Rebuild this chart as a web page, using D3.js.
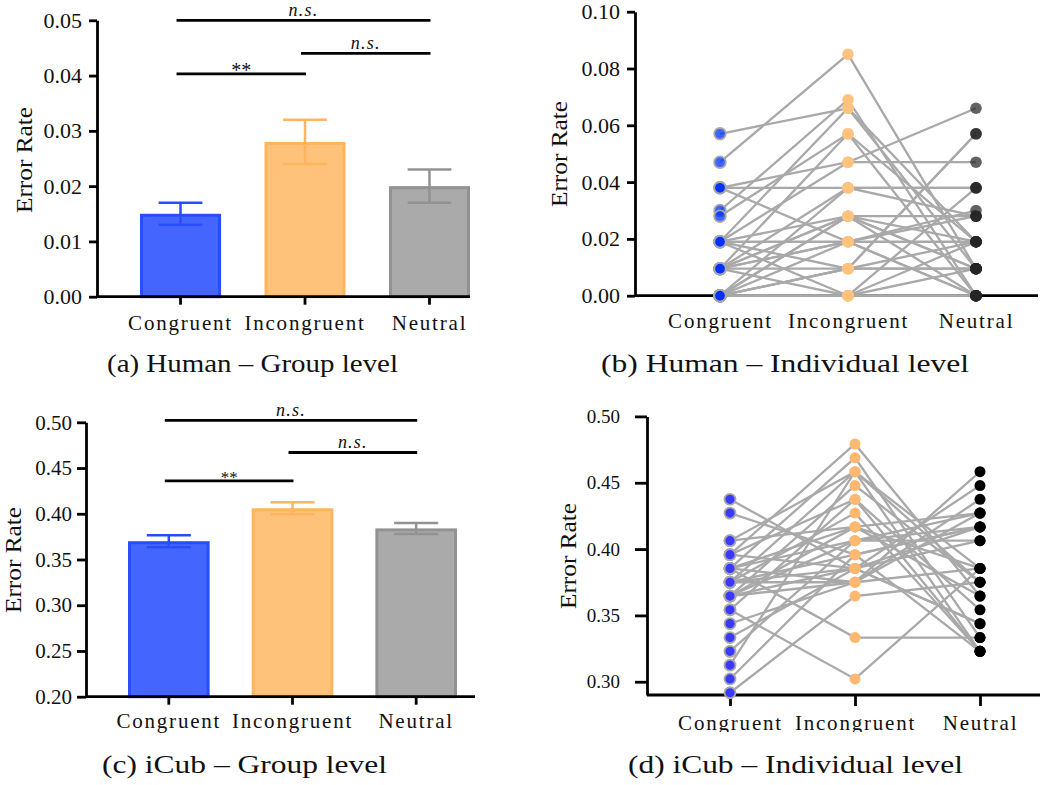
<!DOCTYPE html>
<html>
<head>
<meta charset="utf-8">
<script src="https://cdn.jsdelivr.net/npm/d3@7"></script>
<style>
  html, body { margin: 0; padding: 0; background: #fff; }
  svg text { font-family: "Liberation Serif", "Times New Roman", serif; fill: #111; }
</style>
</head>
<body>
<svg id="fig" width="1043" height="785"></svg>
<script>
// ---- conditions ----
const categories = ["Congruent", "Incongruent", "Neutral"];

// ---- (a) human, group level: mean error rate and SEM ----
const humanMeans = [0.015, 0.028, 0.020];
const humanSem = [0.002, 0.004, 0.003];
const humanGroupTicks = [0, 0.01, 0.02, 0.03, 0.04, 0.05];

// ---- (b) human, individual level: one entry per participant ----
const humanCongruent = [0.057, 0.047, 0.038, 0.038, 0.038, 0.030, 0.028, 0.019, 0.019, 0.019, 0.019, 0.019, 0.019,
  0.0095, 0.0095, 0.0095, 0.0095, 0.0095, 0.0095, 0.0095, 0.0095, 0, 0, 0, 0, 0, 0, 0, 0, 0, 0, 0];
const humanIncongruent = [0.066, 0.085, 0.038, 0.047, 0.019, 0.069, 0.057, 0.066, 0.028, 0.047, 0.0095, 0.019, 0,
  0.057, 0.038, 0.028, 0.019, 0.0095, 0, 0.028, 0.019, 0.038, 0.028, 0.028, 0.019, 0.0095, 0.0095, 0, 0, 0.0095, 0, 0];
const humanNeutral = [0.0095, 0.0095, 0.038, 0.047, 0.028, 0, 0.019, 0.019, 0.028, 0.066, 0.019, 0, 0.038,
  0, 0.028, 0.0095, 0.019, 0.057, 0.0095, 0, 0.030, 0.038, 0.019, 0.0095, 0, 0.057, 0.0095, 0.019, 0, 0.0095, 0, 0];
const humanIndivTicks = [0, 0.02, 0.04, 0.06, 0.08, 0.10];

// ---- (c) iCub, group level ----
const icubMeans = [0.370, 0.406, 0.384];
const icubSem = [0.0065, 0.0065, 0.006];
const icubGroupTicks = [0.20, 0.25, 0.30, 0.35, 0.40, 0.45, 0.50];

// ---- (d) iCub, individual level ----
const icubCongruent = [0.4375, 0.4271, 0.4063, 0.4063, 0.3958, 0.3958, 0.3958, 0.3854, 0.3854, 0.3854, 0.3854, 0.3854,
  0.3750, 0.3750, 0.3750, 0.3750, 0.3750, 0.3646, 0.3646, 0.3646, 0.3646, 0.3646, 0.3542, 0.3542, 0.3438, 0.3333,
  0.3229, 0.3125, 0.3021, 0.2917];
const icubIncongruent = [0.3854, 0.3958, 0.4583, 0.4167, 0.4792, 0.4375, 0.3854, 0.4688, 0.4063, 0.3750, 0.4167, 0.3333,
  0.4583, 0.3958, 0.3854, 0.4271, 0.3750, 0.4479, 0.4063, 0.3854, 0.3750, 0.4167, 0.3021, 0.4375, 0.3750, 0.3854,
  0.4063, 0.4583, 0.3958, 0.3646];
const icubNeutral = [0.3438, 0.3229, 0.3750, 0.4271, 0.3646, 0.3229, 0.4167, 0.3333, 0.4271, 0.4583, 0.3854, 0.3333,
  0.3854, 0.4167, 0.4063, 0.3229, 0.4375, 0.3750, 0.4167, 0.4479, 0.3854, 0.3646, 0.3854, 0.3542, 0.4271, 0.3438,
  0.4063, 0.3229, 0.4167, 0.3750];
const icubIndivTicks = [0.30, 0.35, 0.40, 0.45, 0.50];

// ---- pairwise comparisons: [from, to, height, label] ----
const humanComparisons = [["Congruent", "Neutral", 0.050, "n.s."], ["Incongruent", "Neutral", 0.044, "n.s."], ["Congruent", "Incongruent", 0.0403, "**"]];
const icubComparisons = [["Congruent", "Neutral", 0.502, "n.s."], ["Incongruent", "Neutral", 0.467, "n.s."], ["Congruent", "Incongruent", 0.436, "**"]];

const captions = ["(a) Human \u2013 Group level", "(b) Human \u2013 Individual level", "(c) iCub \u2013 Group level", "(d) iCub \u2013 Individual level"];

// ---- styling ----
const barFill = { Congruent: "#4466ff", Incongruent: "#ffc27a", Neutral: "#aaaaaa" };
const barEdge = { Congruent: "#2a4cff", Incongruent: "#ffb45e", Neutral: "#929292" };

const svg = d3.select("#fig");
const defs = svg.append("defs");

function styleAxis(g, width) {
  g.selectAll("path.domain").attr("stroke", "#000").attr("stroke-width", width);
  g.selectAll(".tick line").attr("stroke", "#000").attr("stroke-width", width);
}

function yAxis(g, y, x, ticks, tickLen, pad, fontSize, lineW) {
  const ax = g.append("g").attr("transform", `translate(${x},0)`)
    .call(d3.axisLeft(y).tickValues(ticks).tickFormat(d3.format(".2f"))
      .tickSize(tickLen).tickSizeOuter(0).tickPadding(pad));
  styleAxis(ax, lineW);
  ax.selectAll("text").attr("font-size", fontSize).attr("fill", "#111")
    .style("font-family", '"Liberation Serif", "Times New Roman", serif');
  return ax;
}

function xAxis(g, xPos, y0, xRange, tickLen, labelOffset, fontSize, lineW, spacing) {
  g.append("line").attr("x1", xRange[0]).attr("x2", xRange[1]).attr("y1", y0).attr("y2", y0)
    .attr("stroke", "#000").attr("stroke-width", lineW);
  const ax = g.append("g").attr("transform", `translate(0,${y0})`)
    .call(d3.axisBottom(xPos).tickSize(tickLen).tickSizeOuter(0));
  ax.select("path.domain").remove();
  ax.selectAll(".tick line").attr("stroke", "#000").attr("stroke-width", lineW);
  ax.selectAll("text").attr("dy", null).attr("y", labelOffset)
    .attr("font-size", fontSize).attr("fill", "#111")
    .style("letter-spacing", spacing + "px")
    .style("font-family", '"Liberation Serif", "Times New Roman", serif');
  return ax;
}

function yTitle(g, x, y, size, len) {
  g.append("text").attr("transform", `translate(${x},${y}) rotate(-90)`)
    .attr("text-anchor", "middle").attr("font-size", size)
    .attr("textLength", len).attr("lengthAdjust", "spacingAndGlyphs")
    .text("Error Rate");
}

function caption(g, text, cx, baseline, len) {
  g.append("text").attr("x", cx).attr("y", baseline).attr("text-anchor", "middle")
    .attr("font-size", 25).attr("textLength", len).attr("lengthAdjust", "spacingAndGlyphs")
    .text(text);
}

// ---- grouped bar chart with SEM whiskers and comparison brackets ----
function barPanel(o) {
  const g = svg.append("g");
  const y = d3.scaleLinear().domain(o.yDomain).range(o.yRange);
  const x = d3.scaleBand().domain(categories).range(o.band).paddingInner(o.padInner).paddingOuter(0);
  const base = y(o.yDomain[0]);
  const rows = categories.map((c, i) => ({ c, m: o.means[i], s: o.sem[i] }));

  g.selectAll("rect.bar").data(rows).join("rect").attr("class", "bar")
    .attr("x", d => x(d.c) + 1.5).attr("width", x.bandwidth() - 3)
    .attr("y", d => y(d.m) + 1.5).attr("height", d => base - y(d.m) - 1.5)
    .attr("fill", d => barFill[d.c]).attr("stroke", d => barEdge[d.c]).attr("stroke-width", 3);

  const cap = x.bandwidth() * 0.27;
  const w = g.selectAll("g.err").data(rows).join("g").attr("class", "err")
    .attr("stroke", d => barEdge[d.c]).attr("stroke-width", 2.5);
  w.append("line").attr("x1", d => x(d.c) + x.bandwidth() / 2).attr("x2", d => x(d.c) + x.bandwidth() / 2)
    .attr("y1", d => y(d.m + d.s)).attr("y2", d => y(d.m - d.s));
  w.append("line").attr("x1", d => x(d.c) + x.bandwidth() / 2 - cap).attr("x2", d => x(d.c) + x.bandwidth() / 2 + cap)
    .attr("y1", d => y(d.m + d.s)).attr("y2", d => y(d.m + d.s));
  w.append("line").attr("x1", d => x(d.c) + x.bandwidth() / 2 - cap).attr("x2", d => x(d.c) + x.bandwidth() / 2 + cap)
    .attr("y1", d => y(d.m - d.s)).attr("y2", d => y(d.m - d.s));

  yAxis(g, y, o.axisX[0], o.ticks, o.yTick, o.yPad, o.tickFont, 2.8);
  xAxis(g, x, base, o.axisX, 8, o.labelOffset, 21, 2.8, 1.8);

  // comparison brackets
  const cx = c => x(c) + x.bandwidth() / 2;
  o.comparisons.forEach(([a, b, h, lab]) => {
    const x1 = cx(a) - 4, x2 = cx(b) + 1, yy = y(h);
    g.append("line").attr("x1", x1).attr("x2", x2).attr("y1", yy).attr("y2", yy)
      .attr("stroke", "#000").attr("stroke-width", 2.8);
    if (lab === "**") {
      g.append("text").attr("x", (x1 + x2) / 2).attr("y", yy + o.starDy).attr("text-anchor", "middle")
        .attr("font-size", o.starFont).text(lab);
    } else {
      g.append("text").attr("x", (x1 + x2) / 2).attr("y", yy - 4).attr("text-anchor", "middle")
        .attr("font-size", 18).attr("font-style", "italic").style("letter-spacing", "1.2px").text(lab);
    }
  });

  yTitle(g, o.title[0], o.title[1], 23, 106);
  caption(g, o.caption, o.capPos[0], o.capPos[1], o.capPos[2]);
}

// ---- paired individual values joined across conditions ----
function pairPanel(o) {
  const g = svg.append("g");
  const y = d3.scaleLinear().domain(o.yDomain).range(o.yRange);
  const x = d3.scalePoint().domain(categories).range(o.points);
  const base = y(o.yDomain[0]);

  yAxis(g, y, o.axisX[0], o.ticks, o.yTick, o.yPad, o.tickFont, 2.8);
  const xa = xAxis(g, x, base, o.axisX, o.xTick, o.labelOffset, 21, 2.8, 1.8);
  if (o.clipY) {
    const id = "clip" + Math.round(o.clipY);
    defs.append("clipPath").attr("id", id).append("rect")
      .attr("x", -600).attr("y", -base).attr("width", 1200).attr("height", base + o.clipY);
    xa.selectAll("text").attr("clip-path", `url(#${id})`);
  }

  const subjects = o.series[0].map((_, i) => categories.map((c, k) => ({ c, v: o.series[k][i] })));
  const line = d3.line().x(d => x(d.c)).y(d => y(d.v));
  g.append("g").selectAll("path").data(subjects).join("path")
    .attr("d", line).attr("fill", "none").attr("stroke", "#a9a9a9").attr("stroke-width", 2.3);

  categories.forEach((c, k) => {
    const st = o.dot[c];
    g.append("g").selectAll("circle").data(o.series[k]).join("circle")
      .attr("cx", x(c)).attr("cy", d => y(d)).attr("r", o.r)
      .attr("fill", st.fill).attr("fill-opacity", st.opacity)
      .attr("stroke", st.stroke || "none").attr("stroke-width", st.stroke ? 1.8 : 0);
  });

  yTitle(g, o.title[0], o.title[1], 23, 106);
  caption(g, o.caption, o.capPos[0], o.capPos[1], o.capPos[2]);
}

barPanel({
  means: humanMeans, sem: humanSem, ticks: humanGroupTicks,
  yDomain: [0, 0.05], yRange: [296.7, 20.3], band: [140, 470], padInner: 0.349,
  axisX: [97, 470], yTick: 8, yPad: 7, tickFont: 22, labelOffset: 33,
  comparisons: humanComparisons, starDy: 3.5, starFont: 20,
  title: [32, 160], caption: captions[0], capPos: [252.5, 372, 291]
});

pairPanel({
  series: [humanCongruent, humanIncongruent, humanNeutral], ticks: humanIndivTicks,
  yDomain: [0, 0.10], yRange: [295.7, 11.7], points: [720, 976], r: 5.8,
  axisX: [635, 1038], yTick: 8, yPad: 7, tickFont: 22, xTick: 4, labelOffset: 32,
  dot: {
    Congruent: { fill: "#0030ff", opacity: 0.75, stroke: "#a8a8a8" },
    Incongruent: { fill: "#ffc27f", opacity: 1 },
    Neutral: { fill: "#262626", opacity: 0.72 }
  },
  title: [567, 154], caption: captions[1], capPos: [785, 372, 368]
});

barPanel({
  means: icubMeans, sem: icubSem, ticks: icubGroupTicks,
  yDomain: [0.20, 0.50], yRange: [696.7, 422.3], band: [128, 457], padInner: 0.34,
  axisX: [86, 475], yTick: 9, yPad: 5, tickFont: 21, labelOffset: 31,
  comparisons: icubComparisons, starDy: 2.5, starFont: 17,
  title: [21, 560], caption: captions[2], capPos: [244.5, 773, 285]
});

pairPanel({
  series: [icubCongruent, icubIncongruent, icubNeutral], ticks: icubIndivTicks,
  yDomain: [0.29, 0.50], yRange: [695, 416.4], points: [730, 980], r: 5.5,
  axisX: [647, 1040], yTick: 12, yPad: 15, tickFont: 19, xTick: 11, labelOffset: 35, clipY: 37,
  dot: {
    Congruent: { fill: "#3a3aff", opacity: 1, stroke: "#a8a8a8" },
    Incongruent: { fill: "#ffb870", opacity: 1 },
    Neutral: { fill: "#000000", opacity: 1 }
  },
  title: [576, 556], caption: captions[3], capPos: [795.5, 773, 335]
});
</script>
</body>
</html>
